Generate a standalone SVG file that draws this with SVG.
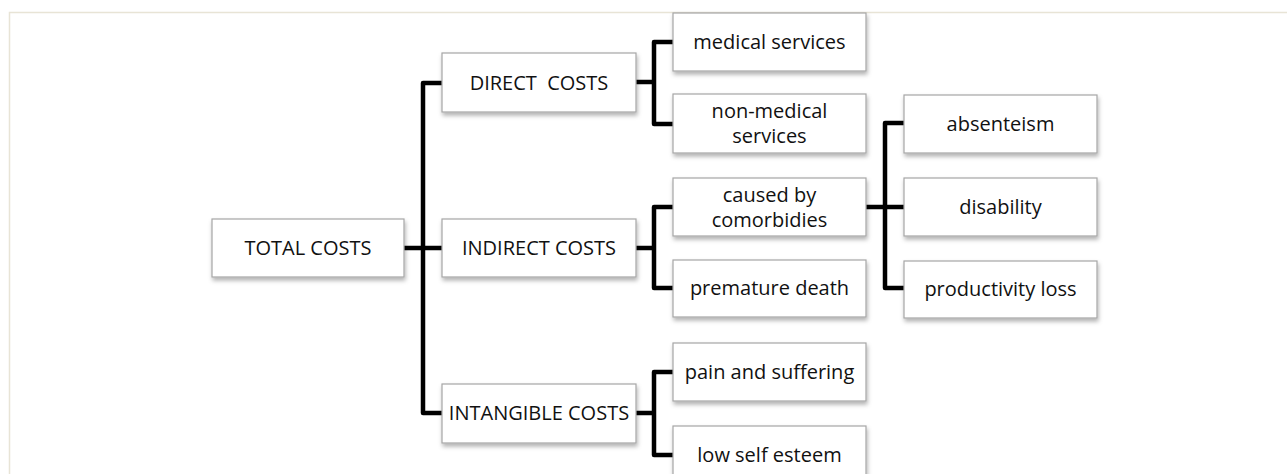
<svg xmlns="http://www.w3.org/2000/svg" width="1287" height="474" viewBox="0 0 1287 474">
<defs>
<filter id="sh" x="-10%" y="-20%" width="130%" height="160%">
<feDropShadow dx="1" dy="3" stdDeviation="2" flood-color="#000" flood-opacity="0.3"/>
</filter>
<style>
.box{fill:#fff;stroke:#a6a6a6;stroke-width:1.2;filter:url(#sh)}
.t{font-family:"Open Sans","Liberation Sans",sans-serif;font-size:20px;fill:#111;text-anchor:middle;white-space:pre}
.c{fill:none;stroke:#000;stroke-width:4.5;stroke-linejoin:round}
.frame{fill:none;stroke:#e8e4d6;stroke-width:1.5}
</style>
</defs>
<rect width="1287" height="474" fill="#fff"/>
<path class="frame" d="M9.5 474 V12.5 H1287"/>
<g id="connectors">
<path class="c" d="M404 248 H442"/>
<path class="c" d="M442 83 H423 V413 H443"/>
<path class="c" d="M636 82 H654"/>
<path class="c" d="M673 42 H654 V124 H673"/>
<path class="c" d="M636 248 H654"/>
<path class="c" d="M673 207 H654 V288 H673"/>
<path class="c" d="M866 207 H904"/>
<path class="c" d="M904 123 H885 V288 H904"/>
<path class="c" d="M636 413 H654"/>
<path class="c" d="M673 372 H654 V455 H673"/>
</g>
<g id="total"><rect class="box" x="212" y="219" width="192" height="58"/><text class="t" x="308" y="255">TOTAL COSTS</text></g>
<g id="direct"><rect class="box" x="442" y="53" width="194" height="59"/><text class="t" x="539" y="90">DIRECT  COSTS</text></g>
<g id="indirect"><rect class="box" x="442" y="219" width="194" height="58"/><text class="t" x="539" y="255">INDIRECT COSTS</text></g>
<g id="intangible"><rect class="box" x="442" y="384" width="194" height="59"/><text class="t" x="539" y="420">INTANGIBLE COSTS</text></g>
<g id="medical"><rect class="box" x="673" y="13" width="193" height="58"/><text class="t" x="769.5" y="49">medical services</text></g>
<g id="nonmedical"><rect class="box" x="673" y="94" width="193" height="59"/><text class="t" x="769.5" y="118">non-medical</text><text class="t" x="769.5" y="143">services</text></g>
<g id="caused"><rect class="box" x="673" y="178" width="193" height="58"/><text class="t" x="769.5" y="202">caused by</text><text class="t" x="769.5" y="227">comorbidies</text></g>
<g id="premature"><rect class="box" x="673" y="260" width="193" height="57"/><text class="t" x="769.5" y="295">premature death</text></g>
<g id="pain"><rect class="box" x="673" y="343" width="193" height="58"/><text class="t" x="769.5" y="379">pain and suffering</text></g>
<g id="lowself"><rect class="box" x="673" y="426" width="193" height="58"/><text class="t" x="769.5" y="462">low self esteem</text></g>
<g id="absenteism"><rect class="box" x="904" y="95" width="193" height="58"/><text class="t" x="1000.5" y="131">absenteism</text></g>
<g id="disability"><rect class="box" x="904" y="178" width="193" height="58"/><text class="t" x="1000.5" y="214">disability</text></g>
<g id="productivity"><rect class="box" x="904" y="261" width="193" height="57"/><text class="t" x="1000.5" y="296">productivity loss</text></g>
</svg>
